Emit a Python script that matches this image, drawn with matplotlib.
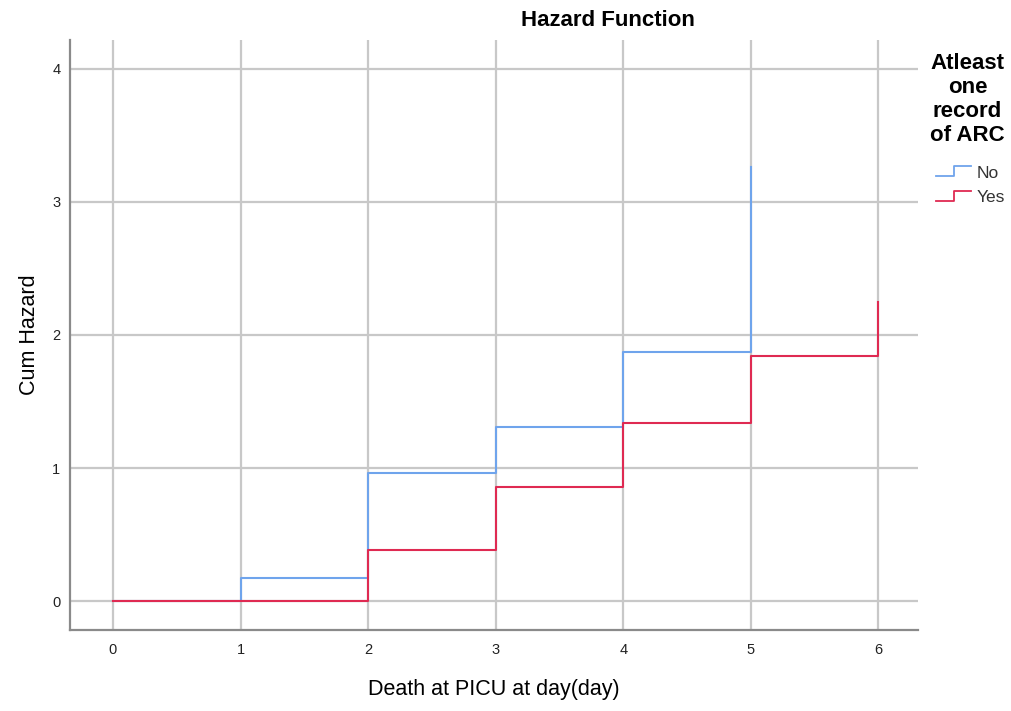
import matplotlib
matplotlib.use("Agg")
import matplotlib.pyplot as plt
from matplotlib.lines import Line2D
from matplotlib.legend_handler import HandlerLine2D

plt.rcParams['font.family'] = ['Liberation Sans', 'DejaVu Sans']

days = [0, 1, 2, 3, 4, 5, 6]
no_days = [0, 1, 2, 3, 4, 5]
no_hazard = [0.0, 0.17, 0.96, 1.31, 1.87, 3.26]
yes_days = [0, 1, 2, 3, 4, 5, 6]
yes_hazard = [0.0, 0.0, 0.38, 0.86, 1.34, 1.84, 2.25]
groups = ["No", "Yes"]
y_ticks = [0, 1, 2, 3, 4]

blue = "#6fa4ec"
red = "#df2a52"

fig = plt.figure(figsize=(10.12, 7.11), dpi=100)
ax = fig.add_axes([70/1012, 81/711, 848/1012, 590/711])

ax.set_xlim(-0.337, 6.31)
ax.set_ylim(-0.218, 4.218)
ax.set_xticks(days)
ax.set_yticks(y_ticks)
ax.grid(True, color="#c8c8c8", linewidth=1.6)
ax.set_axisbelow(True)
for s in ["top", "right"]:
    ax.spines[s].set_visible(False)
for s in ["left", "bottom"]:
    ax.spines[s].set_color("#8a8a8a")
    ax.spines[s].set_linewidth(1.6)
ax.tick_params(length=0, labelsize=10.5, colors="#222222", pad=9)
ax.tick_params(axis="y", pad=7)

l1, = ax.step(no_days, no_hazard, where="post", color=blue, linewidth=1.5, label=groups[0])
l2, = ax.step(yes_days, yes_hazard, where="post", color=red, linewidth=1.5, label=groups[1])

ax.set_xlabel("Death at PICU at day(day)", fontsize=15.5, labelpad=16)
ax.set_ylabel("Cum Hazard", fontsize=15.5, labelpad=9)
fig.text(608/1012, 1 - 20/711, "Hazard Function", ha="center", va="center",
         fontsize=16, fontweight="bold")


class StepHandler(HandlerLine2D):
    def create_artists(self, legend, orig_handle, xdescent, ydescent, width, height, fontsize, trans):
        x0 = -xdescent
        xs = [x0, x0 + width * 0.5, x0 + width * 0.5, x0 + width]
        ys = [height * 0.1, height * 0.1, height * 0.95, height * 0.95]
        ln = Line2D(xs, ys, color=orig_handle.get_color(), linewidth=1.3)
        ln.set_transform(trans)
        return [ln]


leg = ax.legend(handles=[l1, l2], labels=groups,
                title="Atleast\none\nrecord\nof ARC",
                loc="upper left", bbox_to_anchor=(1.0, 0.998),
                frameon=False, fontsize=12.5, handlelength=2.0, handletextpad=0.3,
                labelspacing=0.55, borderaxespad=0.3,
                handler_map={Line2D: StepHandler()})
leg.get_title().set_fontweight("bold")
leg.get_title().set_fontsize(16)
leg.get_title().set_multialignment("center")
leg.get_title().set_linespacing(1.18)
leg._legend_box.align = "right"
leg._legend_box.sep = 14
for t in leg.get_texts():
    t.set_color("#333333")

fig.savefig("out.png", dpi=100)
